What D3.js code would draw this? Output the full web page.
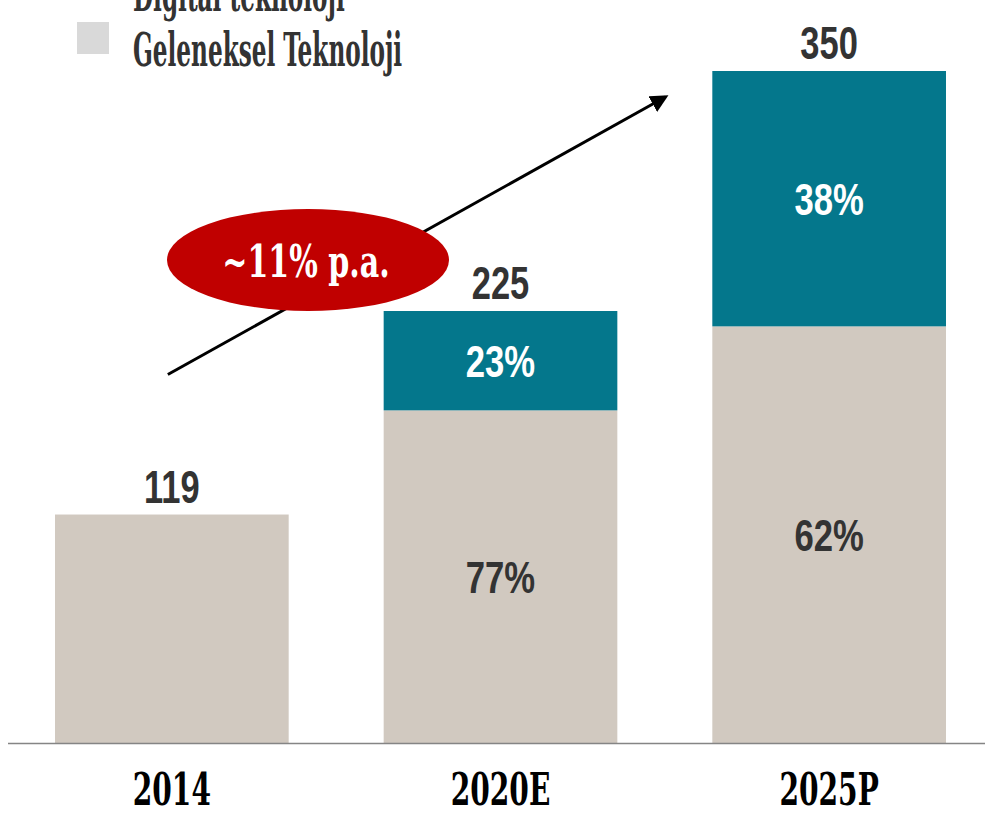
<!DOCTYPE html>
<html>
<head>
<meta charset="utf-8">
<script src="https://cdn.jsdelivr.net/npm/d3@7"></script>
<style>
  body { margin: 0; background: #fff; }
  svg { display: block; }
</style>
</head>
<body>
<svg width="985" height="816"></svg>
<script>
// data
var years = ["2014", "2020E", "2025P"];
var totals = [119, 225, 350];
var digitalShare = [0, 23, 38];      // % of total
var traditionalShare = [100, 77, 62];
var seriesNames = ["Digital teknoloji", "Geleneksel Teknoloji"];
var growthLabel = "~11% p.a.";

var teal = "#04778c", beige = "#d1c9c0";

var svg = d3.select("svg"),
    width = +svg.attr("width"),
    height = +svg.attr("height");

var baseY = 743;

var x = d3.scaleBand()
    .domain(years)
    .range([9, 992])
    .paddingInner(0.289)
    .paddingOuter(0.14);

var y = d3.scaleLinear()
    .domain([0, 350])
    .range([baseY, 71]);

var bw = x.bandwidth();

// squeeze a text horizontally so it gets the narrow look of the original
function squeeze(sel, sx) {
  sel.each(function() {
    var t = d3.select(this);
    var cx = +t.attr("x");
    t.attr("transform", "translate(" + cx + ",0) scale(" + sx + ",1) translate(" + (-cx) + ",0)");
  });
}

var rows = years.map(function(yr, i) {
  var trad = totals[i] * traditionalShare[i] / 100;
  return {year: yr, total: totals[i], trad: trad, dig: totals[i] - trad,
          tp: traditionalShare[i], dp: digitalShare[i]};
});

var bars = svg.append("g").attr("class", "bars");

bars.selectAll("rect.trad")
  .data(rows)
  .enter().append("rect")
    .attr("class", "trad")
    .attr("x", function(d) { return x(d.year); })
    .attr("y", function(d) { return y(d.trad); })
    .attr("width", bw)
    .attr("height", function(d) { return baseY - y(d.trad); })
    .attr("fill", beige);

bars.selectAll("rect.dig")
  .data(rows.filter(function(d) { return d.dig > 0; }))
  .enter().append("rect")
    .attr("class", "dig")
    .attr("x", function(d) { return x(d.year); })
    .attr("y", function(d) { return y(d.total); })
    .attr("width", bw)
    .attr("height", function(d) { return y(d.trad) - y(d.total); })
    .attr("fill", teal);

// baseline
svg.append("line")
    .attr("x1", 8).attr("x2", width)
    .attr("y1", baseY + 0.5).attr("y2", baseY + 0.5)
    .attr("stroke", "#858585")
    .attr("stroke-width", 1.5);

var numFont = "'Liberation Sans', Arial, sans-serif";
var slabFont = "'DejaVu Serif Condensed', 'DejaVu Serif', serif";

// totals above the bars
svg.append("g").selectAll("text")
  .data(rows)
  .enter().append("text")
    .attr("x", function(d) { return x(d.year) + bw / 2; })
    .attr("y", function(d) { return y(d.total) - 12; })
    .attr("text-anchor", "middle")
    .attr("font-family", numFont)
    .attr("font-weight", "bold")
    .attr("font-size", 46)
    .attr("fill", "#333")
    .text(function(d) { return d.total; })
    .call(squeeze, 0.75);

// share labels in the segments
var shares = [];
rows.forEach(function(d) {
  if (d.dig > 0) {
    shares.push({year: d.year, mid: (y(d.total) + y(d.trad)) / 2, txt: d.dp + "%", c: "#fff"});
    shares.push({year: d.year, mid: (y(d.trad) + baseY) / 2, txt: d.tp + "%", c: "#333"});
  }
});

svg.append("g").selectAll("text")
  .data(shares)
  .enter().append("text")
    .attr("x", function(d) { return x(d.year) + bw / 2; })
    .attr("y", function(d) { return d.mid + 16; })
    .attr("text-anchor", "middle")
    .attr("font-family", numFont)
    .attr("font-weight", "bold")
    .attr("font-size", 45)
    .attr("fill", function(d) { return d.c; })
    .text(function(d) { return d.txt; })
    .call(squeeze, 0.77);

// category labels
svg.append("g").selectAll("text")
  .data(years)
  .enter().append("text")
    .attr("x", function(d) { return x(d) + bw / 2; })
    .attr("y", 805)
    .attr("text-anchor", "middle")
    .attr("font-family", slabFont)
    .attr("font-weight", "bold")
    .attr("font-size", 44)
    .attr("fill", "#000")
    .text(function(d) { return d; })
    .call(squeeze, 0.71);

// growth arrow
svg.append("defs").append("marker")
    .attr("id", "head")
    .attr("viewBox", "0 0 10 10")
    .attr("refX", 8).attr("refY", 5)
    .attr("markerWidth", 6).attr("markerHeight", 6)
    .attr("orient", "auto")
  .append("path")
    .attr("d", "M0,0L10,5L0,10z")
    .attr("fill", "#000");

var ax0 = x("2014") + bw / 2 - 4, ay0 = y(119) - 140;
var ax1 = x("2025P") - 47, ay1 = y(350) + 26;

svg.append("line")
    .attr("x1", ax0).attr("y1", ay0)
    .attr("x2", ax1).attr("y2", ay1)
    .attr("stroke", "#000")
    .attr("stroke-width", 3)
    .attr("marker-end", "url(#head)");

var ex = 308, ey = 260;
svg.append("ellipse")
    .attr("cx", ex).attr("cy", ey)
    .attr("rx", 141).attr("ry", 51)
    .attr("fill", "#c00000");

svg.append("text")
    .attr("x", ex - 2).attr("y", ey + 17)
    .attr("text-anchor", "middle")
    .attr("font-family", slabFont)
    .attr("font-weight", "bold")
    .attr("font-size", 44)
    .attr("fill", "#fff")
    .text(growthLabel)
    .call(squeeze, 0.76);

// legend (first entry runs off the top edge)
var legend = svg.append("g").selectAll("g")
  .data(seriesNames)
  .enter().append("g")
    .attr("transform", function(d, i) { return "translate(0," + (i * 55 - 55) + ")"; });

legend.append("rect")
    .attr("x", 77).attr("y", 22)
    .attr("width", 32).attr("height", 32)
    .attr("fill", function(d, i) { return i === 0 ? teal : "#d9d9d9"; });

legend.append("text")
    .attr("x", 133).attr("y", 66)
    .attr("font-family", slabFont)
    .attr("font-weight", "bold")
    .attr("font-size", 46)
    .attr("fill", "#333")
    .text(function(d) { return d; })
    .call(squeeze, 0.56);
</script>
</body>
</html>
